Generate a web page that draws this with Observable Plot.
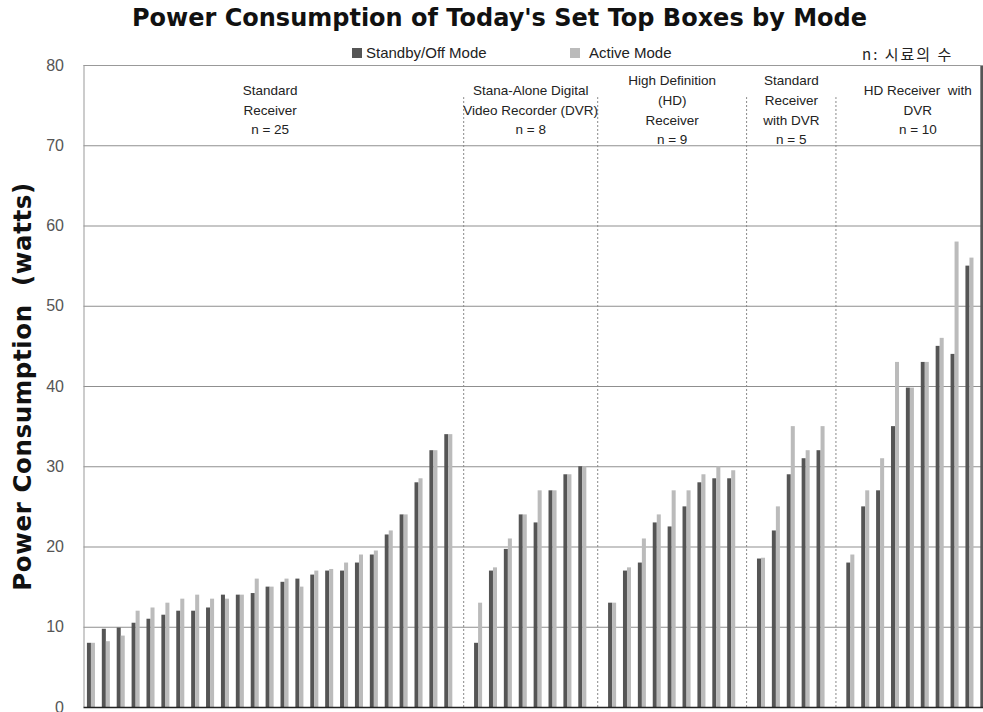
<!DOCTYPE html>
<html><head><meta charset="utf-8">
<script src="https://cdn.jsdelivr.net/npm/d3@7"></script>
<script src="https://cdn.jsdelivr.net/npm/@observablehq/plot@0.6"></script>
<style>
html,body{margin:0;padding:0;background:#fff;}
body{width:983px;height:712px;overflow:hidden;position:relative;font-family:"Liberation Sans",Arial,sans-serif;}
#title{position:absolute;top:4px;left:8px;width:983px;text-align:center;font-family:"DejaVu Sans",sans-serif;font-weight:bold;font-size:24px;color:#111;z-index:2;white-space:nowrap;}
.leg{position:absolute;top:44px;font-size:15px;color:#222;z-index:2;white-space:nowrap;}
.sw{display:inline-block;width:10px;height:10px;margin-right:4px;vertical-align:0px;}
#note{position:absolute;top:43px;left:862px;font-family:"Noto Sans CJK KR","Liberation Sans",sans-serif;font-size:15px;letter-spacing:2px;color:#222;z-index:2;}
#chart{position:absolute;top:0;left:0;z-index:1;}
#chart svg{max-width:none !important;}
#chart svg g[aria-label="y-axis label"] text{font-family:"DejaVu Sans",sans-serif;font-weight:bold;font-size:24.5px;letter-spacing:0.6px;fill:#111;}
</style></head><body>
<div id="title"></div>
<div id="leg1" class="leg" style="left:352px"><span class="sw" style="background:#555"></span><span id="l1"></span></div>
<div id="leg2" class="leg" style="left:570px"><span class="sw" style="background:#bbb;margin-right:9px"></span><span id="l2"></span></div>
<div id="note"></div>
<div id="chart"></div>
<script>
const titleText = "Power Consumption of Today's Set Top Boxes by Mode";
const seriesNames = ["Standby/Off Mode", "Active Mode"];
const noteText = "n: 시료의 수";
const yLabel = "Power Consumption  (watts)";
const yTicks = [0, 10, 20, 30, 40, 50, 60, 70, 80];

const categories = [
  "Standard\nReceiver\nn = 25",
  "Stana-Alone Digital\nVideo Recorder (DVR)\nn = 8",
  "High Definition\n(HD)\nReceiver\nn = 9",
  "Standard\nReceiver\nwith DVR\nn = 5",
  "HD Receiver  with\nDVR\nn = 10"
];

const standbyStandard = [8, 9.75, 9.9, 10.5, 11, 11.5, 12, 12, 12.4, 14, 14, 14.2, 15, 15.6, 16, 16.5, 17, 17, 18, 19, 21.5, 24, 28, 32, 34];
const activeStandard  = [8, 8.2, 8.9, 12, 12.4, 13, 13.5, 14, 13.5, 13.5, 14, 16, 15, 16, 15, 17, 17.2, 18, 19, 19.5, 22, 24, 28.5, 32, 34];
const standbyDVR = [8, 17, 19.7, 24, 23, 27, 29, 30];
const activeDVR  = [13, 17.4, 21, 24, 27, 27, 29, 30];
const standbyHD = [13, 17, 18, 23, 22.5, 25, 28, 28.5, 28.5];
const activeHD  = [13, 17.4, 21, 24, 27, 27, 29, 30, 29.5];
const standbyStdDVR = [18.5, 22, 29, 31, 32];
const activeStdDVR  = [18.6, 25, 35, 32, 35];
const standbyHDDVR = [18, 25, 27, 35, 39.8, 43, 45, 44, 55, 80];
const activeHDDVR  = [19, 27, 31, 43, 39.8, 43, 46, 58, 56, 80];

const standbyGroups = [standbyStandard, standbyDVR, standbyHD, standbyStdDVR, standbyHDDVR];
const activeGroups = [activeStandard, activeDVR, activeHD, activeStdDVR, activeHDDVR];

document.getElementById("title").textContent = titleText;
document.getElementById("l1").textContent = seriesNames[0];
document.getElementById("l2").textContent = seriesNames[1];
document.getElementById("note").textContent = noteText;

// Build table: one slot per box, one empty slot between categories
const rows = [], catRows = [], separators = [];
let slot = 0;
standbyGroups.forEach((g, ci) => {
  const first = slot;
  g.forEach((v, i) => { rows.push({slot, standby: v, active: activeGroups[ci][i], cat: ci}); slot++; });
  catRows.push({center: (first + slot - 1) / 2, label: categories[ci]});
  if (ci < standbyGroups.length - 1) { separators.push(slot); slot++; }
});
const nSlots = slot;
const step = 14.89, left = 83.5, W = 1000;
const barW = 0.27;

const chart = Plot.plot({
  width: W, height: 732,
  marginLeft: left, marginRight: W - (left + nSlots * step), marginTop: 65, marginBottom: 25,
  style: {background: "transparent", fontFamily: "Liberation Sans, Arial, sans-serif", overflow: "visible", maxWidth: "none"},
  x: {type: "linear", domain: [-0.5, nSlots - 0.5], axis: null},
  y: {domain: [0, 80]},
  marks: [
    Plot.gridY(yTicks.filter(t => t > 0 && t < 80), {stroke: "#8f8f8f", strokeOpacity: 1}),
    Plot.ruleX(separators, {x: d => d, y1: 0, y2: 76, stroke: "#888", strokeDasharray: "2,2"}),
    Plot.rect(rows, {x1: d => d.slot - barW, x2: d => d.slot, y1: 0, y2: "standby", fill: "#555"}),
    Plot.rect(rows, {x1: d => d.slot, x2: d => d.slot + barW, y1: 0, y2: "active", fill: "#bbb"}),
    Plot.ruleY([80], {stroke: "#999"}),
    Plot.ruleX([-0.5], {stroke: "#999"}),
    Plot.ruleY([0], {stroke: "#222", strokeWidth: 1.5}),
    Plot.text(catRows, {x: "center", text: "label", frameAnchor: "top", dy: 43, lineAnchor: "middle", lineHeight: 1.45, fontSize: 13.5, fill: "#222"}),
    Plot.axisY({ticks: yTicks, tickSize: 0, tickPadding: 20, fontSize: 16, color: "#555",
      label: yLabel, labelAnchor: "center", labelArrow: "none", labelOffset: 70})
  ]
});
document.getElementById("chart").appendChild(chart);
</script>
</body></html>
